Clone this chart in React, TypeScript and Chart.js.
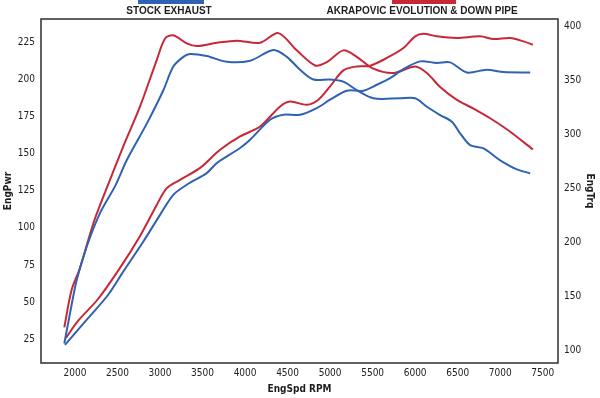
import React, { useEffect, useRef } from "react";
import { Chart, registerables } from "chart.js";

Chart.register(...registerables);

// ---- Data ----
const seriesNames = ["STOCK EXHAUST", "AKRAPOVIC EVOLUTION & DOWN PIPE"];

const xTicks = [2000, 2500, 3000, 3500, 4000, 4500, 5000, 5500, 6000, 6500, 7000, 7500];
const pwrTicks = [25, 50, 75, 100, 125, 150, 175, 200, 225];
const trqTicks = [100, 150, 200, 250, 300, 350, 400];

// Stock exhaust power (left axis)
const stockPwrRpm = [1882, 2156, 2388, 2565, 2800, 3000, 3156, 3314, 3549, 3667, 3941, 4059, 4294, 4451, 4647, 4843, 5000, 5196, 5392, 5549, 5706, 5862, 6059, 6255, 6412, 6608, 6843, 7039, 7353];
const stockPwr = [21, 39.2, 54.7, 70.3, 90.5, 108.8, 122.3, 129.1, 137, 143.7, 153.9, 159.5, 173, 176.4, 176.4, 180.9, 186.5, 192.6, 192.6, 196.6, 201.1, 207.2, 212.4, 211.3, 211.7, 204.9, 206.8, 205.2, 204.9];

// Akrapovic power (left axis)
const akraPwrRpm = [1894, 2035, 2271, 2529, 2765, 2961, 3079, 3235, 3471, 3706, 3941, 4176, 4412, 4529, 4726, 4862, 5000, 5156, 5314, 5471, 5667, 5862, 6000, 6098, 6255, 6491, 6765, 6922, 7118, 7274, 7385];
const akraPwr = [25.7, 37.2, 52, 73, 94.6, 115.5, 126.8, 132.4, 140.5, 152.7, 161.7, 168.4, 182, 185.3, 183.1, 186.5, 195.5, 206.3, 209, 209.5, 214.7, 221.4, 229.3, 231.1, 229.3, 228.2, 229.3, 227.5, 228.2, 225.9, 223.6];

// Stock exhaust torque (right axis)
const stockTrqRpm = [1874, 1941, 2020, 2138, 2294, 2471, 2608, 2844, 3039, 3156, 3274, 3353, 3549, 3785, 4059, 4333, 4491, 4647, 4804, 5000, 5156, 5314, 5509, 5824, 6000, 6138, 6294, 6432, 6529, 6647, 6804, 7000, 7196, 7353];
const stockTrq = [106, 134, 165, 196, 227, 252, 276, 310, 341, 363, 372, 374.6, 372.7, 367.4, 368.4, 378.3, 372, 360, 351, 351, 349, 341, 333.5, 333.5, 333.5, 325.7, 318, 311.8, 301, 290, 287, 276, 267.6, 264];

// Akrapovic torque (right axis)
const akraTrqRpm = [1874, 1961, 2059, 2156, 2235, 2412, 2568, 2765, 2961, 3059, 3156, 3314, 3432, 3667, 3902, 4176, 4392, 4608, 4824, 4961, 5156, 5314, 5509, 5745, 6000, 6138, 6294, 6491, 6686, 6882, 7118, 7385];
const akraTrq = [121, 156, 176, 202, 222, 258, 289, 326, 369, 389, 392, 384.5, 382, 385, 387, 385, 394, 378, 364, 367, 378, 372, 361, 357, 363, 357, 344, 332, 324, 315, 302.5, 286];

const BLUE = "#2f62b2";
const RED = "#c62836";
const NARROW = "'Liberation Sans Narrow', 'DejaVu Sans Condensed', 'Liberation Sans', sans-serif";

const pts = (xs: number[], ys: number[]) => xs.map((x, i) => ({ x, y: ys[i] }));

const framePlugin = {
  id: "frame",
  afterDraw(chart: any) {
    const { ctx, chartArea } = chart;
    ctx.save();
    ctx.strokeStyle = "#3a3a3a";
    ctx.lineWidth = 1.6;
    ctx.strokeRect(chartArea.left, chartArea.top, chartArea.right - chartArea.left, chartArea.bottom - chartArea.top);
    ctx.restore();
  },
};

const topLegendPlugin = {
  id: "topLegend",
  afterDraw(chart: any) {
    const ctx = chart.ctx;
    const colors = [BLUE, RED];
    const centers = [169, 422];
    const barW = [66, 64];
    ctx.save();
    ctx.font = "bold 10px 'Liberation Sans', 'DejaVu Sans', sans-serif";
    ctx.textAlign = "center";
    ctx.textBaseline = "middle";
    seriesNames.forEach((name, i) => {
      ctx.fillStyle = colors[i];
      ctx.fillRect(centers[i] - barW[i] / 2 + 2, 0, barW[i], 4);
      ctx.fillStyle = "#1e1e1e";
      ctx.fillText(name, centers[i], 11);
    });
    ctx.restore();
  },
};

export default function App() {
  const ref = useRef<HTMLCanvasElement | null>(null);

  useEffect(() => {
    if (!ref.current) return;
    const tickFont = { family: NARROW, size: 10 };
    const titleFont = { family: NARROW, size: 10, weight: "bold" as const };
    const plain = (v: any) => String(v);
    const chart = new Chart(ref.current, {
      type: "line",
      data: {
        datasets: [
          { label: seriesNames[0] + " Pwr", data: pts(stockPwrRpm, stockPwr), borderColor: BLUE, yAxisID: "y" },
          { label: seriesNames[0] + " Trq", data: pts(stockTrqRpm, stockTrq), borderColor: BLUE, yAxisID: "y1" },
          { label: seriesNames[1] + " Pwr", data: pts(akraPwrRpm, akraPwr), borderColor: RED, yAxisID: "y" },
          { label: seriesNames[1] + " Trq", data: pts(akraTrqRpm, akraTrq), borderColor: RED, yAxisID: "y1" },
        ].map((d) => ({ ...d, borderWidth: 2, pointRadius: 0, tension: 0.3, fill: false })),
      },
      options: {
        animation: false,
        responsive: false,
        maintainAspectRatio: false,
        layout: { padding: { top: 19, left: 0, right: 0, bottom: 0 } },
        plugins: { legend: { display: false }, tooltip: { enabled: false } },
        scales: {
          x: {
            type: "linear",
            min: 1600,
            max: 7680,
            afterBuildTicks: (s: any) => { s.ticks = xTicks.map((v) => ({ value: v })); },
            afterFit: (s: any) => { s.height = 35; },
            grid: { display: false, drawTicks: false },
            border: { display: false },
            ticks: { font: tickFont, color: "#222", padding: 4, maxRotation: 0, autoSkip: false, callback: plain },
            title: { display: true, text: "EngSpd RPM", font: titleFont, color: "#1e1e1e", padding: { top: 0, bottom: 3 } },
          },
          y: {
            type: "linear",
            position: "left",
            min: 8.8,
            max: 241,
            afterBuildTicks: (s: any) => { s.ticks = pwrTicks.map((v) => ({ value: v })); },
            afterFit: (s: any) => { s.width = 41; },
            grid: { display: false, drawTicks: false },
            border: { display: false },
            ticks: { font: tickFont, color: "#222", padding: 6, autoSkip: false, callback: plain },
            title: { display: true, text: "EngPwr", font: titleFont, color: "#1e1e1e", padding: { top: 2.5, bottom: 0 } },
          },
          y1: {
            type: "linear",
            position: "right",
            min: 87.9,
            max: 407.1,
            afterBuildTicks: (s: any) => { s.ticks = trqTicks.map((v) => ({ value: v })); },
            afterFit: (s: any) => { s.width = 42; },
            grid: { display: false, drawTicks: false },
            border: { display: false },
            ticks: { font: tickFont, color: "#222", padding: 6, autoSkip: false, callback: plain },
            title: { display: true, text: "EngTrq", font: titleFont, color: "#1e1e1e", padding: { top: 4, bottom: 0 } },
          },
        },
      },
      plugins: [framePlugin, topLegendPlugin],
    });
    return () => chart.destroy();
  }, []);

  return (
    <div style={{ position: "fixed", left: 0, top: 0, width: 600, height: 398, background: "#fff" }}>
      <canvas ref={ref} width={600} height={398} style={{ width: 600, height: 398, display: "block" }} />
    </div>
  );
}
